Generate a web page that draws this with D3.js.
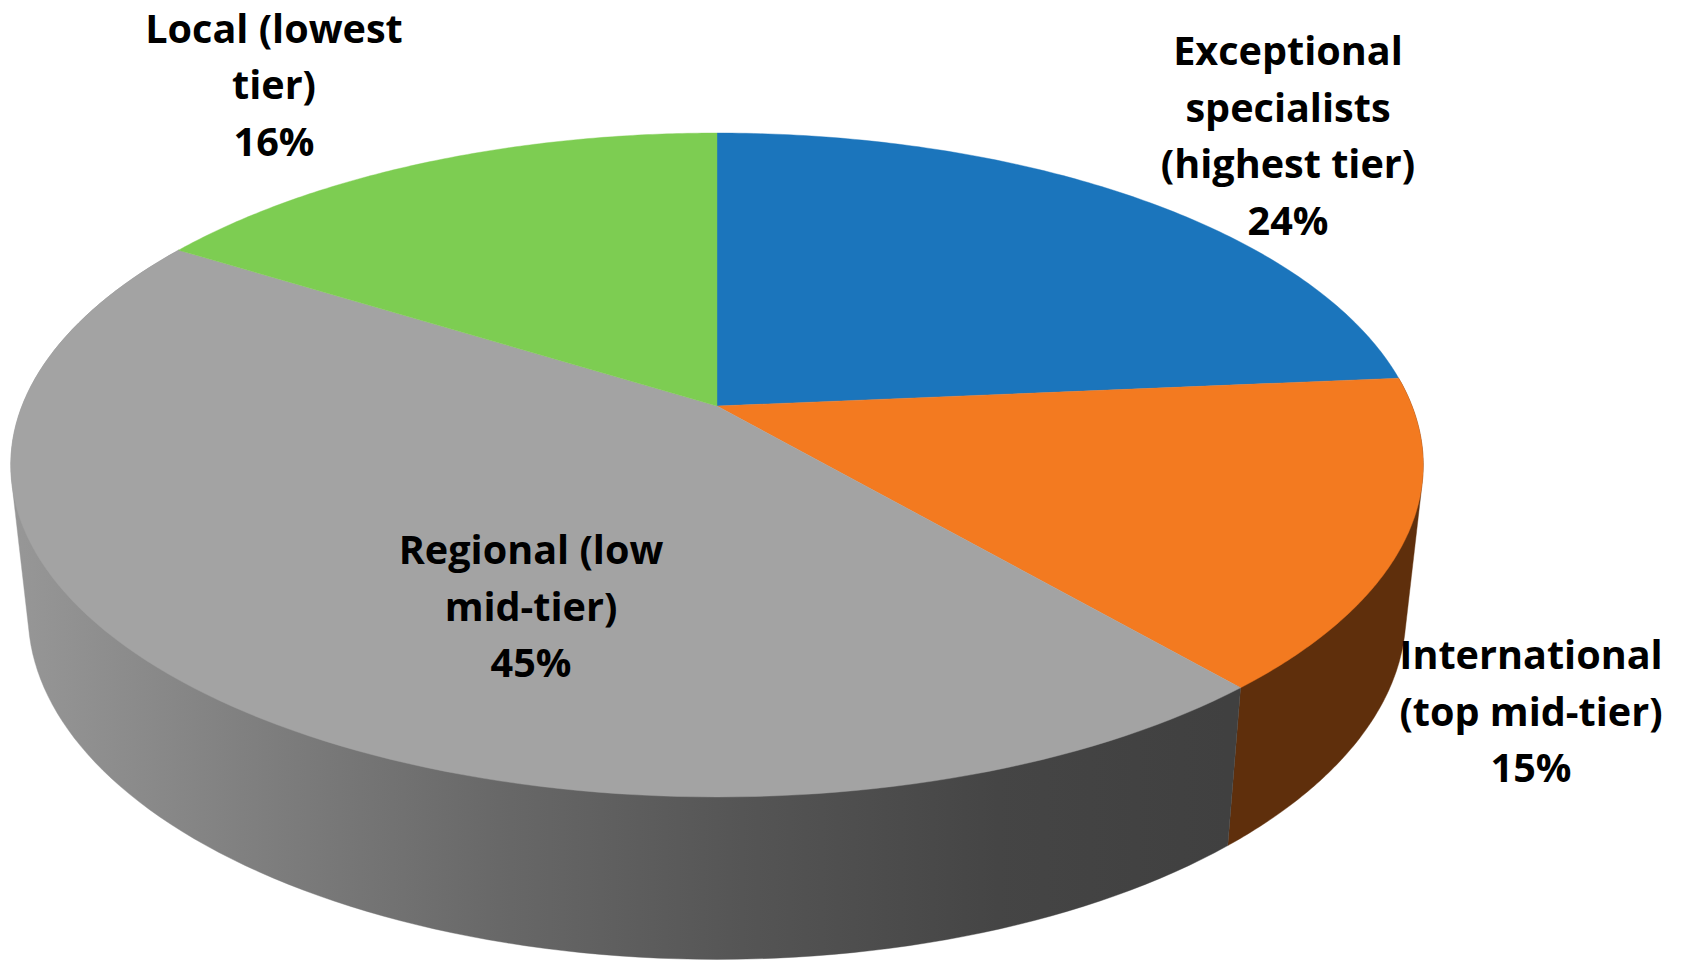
<!DOCTYPE html>
<html><head><meta charset="utf-8">
<script src="https://cdn.jsdelivr.net/npm/d3@7"></script>
<style>html,body{margin:0;padding:0;background:#fff}svg{display:block}</style></head>
<body><svg id="c" width="1685" height="960"></svg>
<script>
// Data
const categories = ["Exceptional specialists (highest tier)", "International (top mid-tier)", "Regional (low mid-tier)", "Local (lowest tier)"];
const values = [23.6, 15.1, 45.2, 16.1];
const percentLabels = ["24%", "15%", "45%", "16%"];
const labelLines = [["Exceptional","specialists","(highest tier)","24%"],["International","(top mid-tier)","15%"],["Regional (low","mid-tier)","45%"],["Local (lowest","tier)","16%"]];
const topColors = ["#1b75bc", "#f37a20", "#a3a3a3", "#7dcd52"];
const sideColors = ["#10466f", "#5f2f0c", "url(#wall)", "#4a7a31"];
const labelAnchors = [[1288,65],[1531,669],[531,564],[274,42.5]];

// Perspective disc: projects an angle (clockwise from 12 o'clock) onto the screen
const cx = 717, persp = 0.1777;
const topFace = {y:406, a:695, b:321.5};
const baseFace = {y:552, a:678, b:335};
const project = (f, t, r=1) => {
  const w = 1 + persp*r*Math.cos(t);
  return [cx + f.a*r*Math.sin(t)/w, f.y - f.b*r*Math.cos(t)/w];
};
const svg = d3.select("#c");
const pie = d3.pie().sort(null).value(d=>d)(values);
const arcs = pie.map((d,i)=>({...d, i}));
const samples = (s,e) => d3.range(0,121).map(k=>s+(e-s)*k/120);
const line = d3.line();

const grad = svg.append("defs").append("linearGradient").attr("id","wall")
  .attr("gradientUnits","userSpaceOnUse").attr("x1",13).attr("x2",1228).attr("y1",0).attr("y2",0);
[[0,"#979797"],[0.19,"#808080"],[0.4,"#686868"],[0.6,"#555555"],[0.81,"#454545"],[1,"#404040"]]
  .forEach(([o,c])=>grad.append("stop").attr("offset",o).attr("stop-color",c));

// Side walls: convex hull of the top and base rims over each visible slice
[1,2].forEach(i=>{
  const d = arcs[i];
  const pts = samples(d.startAngle,d.endAngle).flatMap(t=>[project(topFace,t),project(baseFace,t)]);
  svg.append("path").attr("d",line(d3.polygonHull(pts))+"Z").attr("fill",sideColors[i]).attr("stroke",sideColors[i]).attr("stroke-width",0.4);
});
// Top faces
arcs.forEach(d=>{
  const pts = [[cx,topFace.y],...samples(d.startAngle,d.endAngle).map(t=>project(topFace,t))];
  svg.append("path").attr("d",line(pts)+"Z").attr("fill",topColors[d.i]).attr("stroke",topColors[d.i]).attr("stroke-width",0.4);
});
// Labels
labelLines.forEach((lines,i)=>{
  const t = svg.append("text").attr("text-anchor","middle").attr("fill","#000")
    .attr("font-family","'Open Sans','Noto Sans',sans-serif").attr("font-weight",700).attr("font-size",39.6);
  lines.forEach((l,j)=>t.append("tspan").attr("x",labelAnchors[i][0]).attr("y",labelAnchors[i][1]+j*56.6).text(l));
});
</script></body></html>
